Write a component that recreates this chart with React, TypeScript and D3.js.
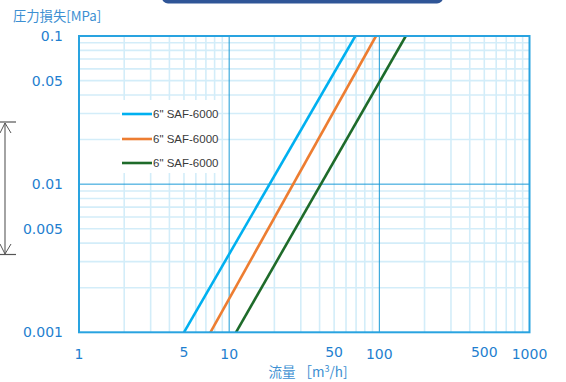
import React from "react";
import * as d3 from "d3";

const W = 566;
const H = 382;

const seriesNames = ['6" SAF-6000', '6" SAF-6000', '6" SAF-6000'];
const seriesColors = ["#00b0f0", "#ed7d31", "#1e6b2a"];
const blueFlow = [5.0, 69.2];
const bluePressure = [0.001, 0.1];
const orangeFlow = [7.5, 95];
const orangePressure = [0.001, 0.1];
const greenFlow = [11.1, 150];
const greenPressure = [0.001, 0.1];

const xTicks = [1, 5, 10, 50, 100, 500, 1000];
const xTickLabels = ["1", "5", "10", "50", "100", "500", "1000"];
const yTicks = [0.1, 0.05, 0.01, 0.005, 0.001];
const yTickLabels = ["0.1", "0.05", "0.01", "0.005", "0.001"];

const yTitle = "圧力損失[MPa]";

export default function App() {
  const left = 79, right = 529.5, top = 36, bottom = 332.3;
  const x = d3.scaleLog().domain([1, 1000]).range([left, right]);
  const y = d3.scaleLog().domain([0.001, 0.1]).range([bottom, top]);

  const series = [
    { flow: blueFlow, p: bluePressure },
    { flow: orangeFlow, p: orangePressure },
    { flow: greenFlow, p: greenPressure },
  ];
  const line = d3
    .line<[number, number]>()
    .x((d) => x(d[0]))
    .y((d) => y(d[1]));

  const minorX: number[] = [];
  [1, 10, 100].forEach((dec) => {
    for (let k = 2; k <= 9; k++) minorX.push(dec * k);
  });
  const minorY: number[] = [];
  [0.001, 0.01].forEach((dec) => {
    for (let k = 2; k <= 9; k++) minorY.push(dec * k);
  });
  const majorX = [10, 100];
  const majorY = [0.01];

  const legendBox = { x: 120, y: 100, w: 98, h: 73 };
  const legendRows = [114, 139, 163];

  const fontNum = "'DejaVu Sans', Verdana, sans-serif";

  return (
    <svg
      width={W}
      height={H}
      style={{ position: "absolute", left: 0, top: 0, background: "#fff" }}
    >
      <rect x={0} y={0} width={W} height={H} fill="#fff" />
      {/* top banner */}
      <rect x={162} y={-12} width={281} height={15.5} rx={6} fill="#2f5597" />

      <defs>
        <clipPath id="plotClip">
          <rect x={left} y={top} width={right - left} height={bottom - top} />
        </clipPath>
      </defs>

      {/* minor grid */}
      <g stroke="#d3edf9" strokeWidth={1.6}>
        {minorX.map((v, i) => (
          <line key={"mx" + i} x1={x(v)} x2={x(v)} y1={top} y2={bottom} />
        ))}
        {minorY.map((v, i) => (
          <line key={"my" + i} x1={left} x2={right} y1={y(v)} y2={y(v)} />
        ))}
      </g>
      {/* legend background */}
      <rect
        x={legendBox.x}
        y={legendBox.y}
        width={legendBox.w}
        height={legendBox.h}
        fill="#fff"
      />
      {/* major grid */}
      <g stroke="#1b9bd7" strokeWidth={1}>
        {majorX.map((v, i) => (
          <line key={"Mx" + i} x1={x(v)} x2={x(v)} y1={top} y2={bottom} />
        ))}
        {majorY.map((v, i) => (
          <line key={"My" + i} x1={left} x2={right} y1={y(v)} y2={y(v)} />
        ))}
      </g>

      {/* series */}
      <g clipPath="url(#plotClip)">
        {series.map((s, i) => (
          <path
            key={i}
            d={line(s.flow.map((f, j) => [f, s.p[j]] as [number, number])) || ""}
            fill="none"
            stroke={seriesColors[i]}
            strokeWidth={2.6}
          />
        ))}
      </g>

      {/* border */}
      <rect
        x={left}
        y={top}
        width={right - left}
        height={bottom - top}
        fill="none"
        stroke="#29a3e0"
        strokeWidth={2}
      />

      {/* legend */}
      {legendRows.map((ly, i) => (
        <g key={"lg" + i}>
          <line x1={122} x2={152} y1={ly} y2={ly} stroke={seriesColors[i]} strokeWidth={2.6} />
          <text
            x={153}
            y={ly + 4}
            fontFamily="'Liberation Sans', Arial, sans-serif"
            fontSize={11.5}
            fill="#3a3a3a"
          >
            {seriesNames[i]}
          </text>
        </g>
      ))}

      {/* y tick labels */}
      {yTicks.map((v, i) => (
        <text
          key={"yt" + i}
          x={63}
          y={y(v) + 5}
          textAnchor="end"
          fontFamily={fontNum}
          fontSize={14}
          fill="#1f7fcf"
        >
          {yTickLabels[i]}
        </text>
      ))}

      {/* x tick labels */}
      {xTicks.map((v, i) => {
        const raised = xTickLabels[i].startsWith("5");
        return (
          <text
            key={"xt" + i}
            x={x(v)}
            y={raised ? 357 : 359}
            textAnchor="middle"
            fontFamily={fontNum}
            fontSize={14}
            fill="#1f7fcf"
          >
            {xTickLabels[i]}
          </text>
        );
      })}

      {/* axis titles */}
      <text
        x={13}
        y={21}
        fontFamily="'Noto Sans CJK JP', sans-serif"
        fontSize={13.3}
        fill="#3c8fd2"
      >
        {yTitle}
      </text>
      <text
        x={308}
        y={377}
        textAnchor="middle"
        fontFamily="'Noto Sans CJK JP', sans-serif"
        fontSize={13.5}
        fill="#3c8fd2"
      >
        流量 ［m<tspan dy={-5} fontSize={9}>3</tspan>
        <tspan dy={5}>/h]</tspan>
      </text>

      {/* left range annotation */}
      <g>
        <line x1={5} x2={5} y1={123} y2={254} stroke="#9a9a9a" strokeWidth={1.8} />
        <line x1={0} x2={16} y1={122} y2={122} stroke="#555" strokeWidth={1.2} />
        <line x1={0} x2={16} y1={254.5} y2={254.5} stroke="#555" strokeWidth={1.2} />
        <polyline points="0,133 5,123 11,133" fill="none" stroke="#555" strokeWidth={1} />
        <polyline points="0,244 5,254 11,244" fill="none" stroke="#555" strokeWidth={1} />
      </g>
    </svg>
  );
}
